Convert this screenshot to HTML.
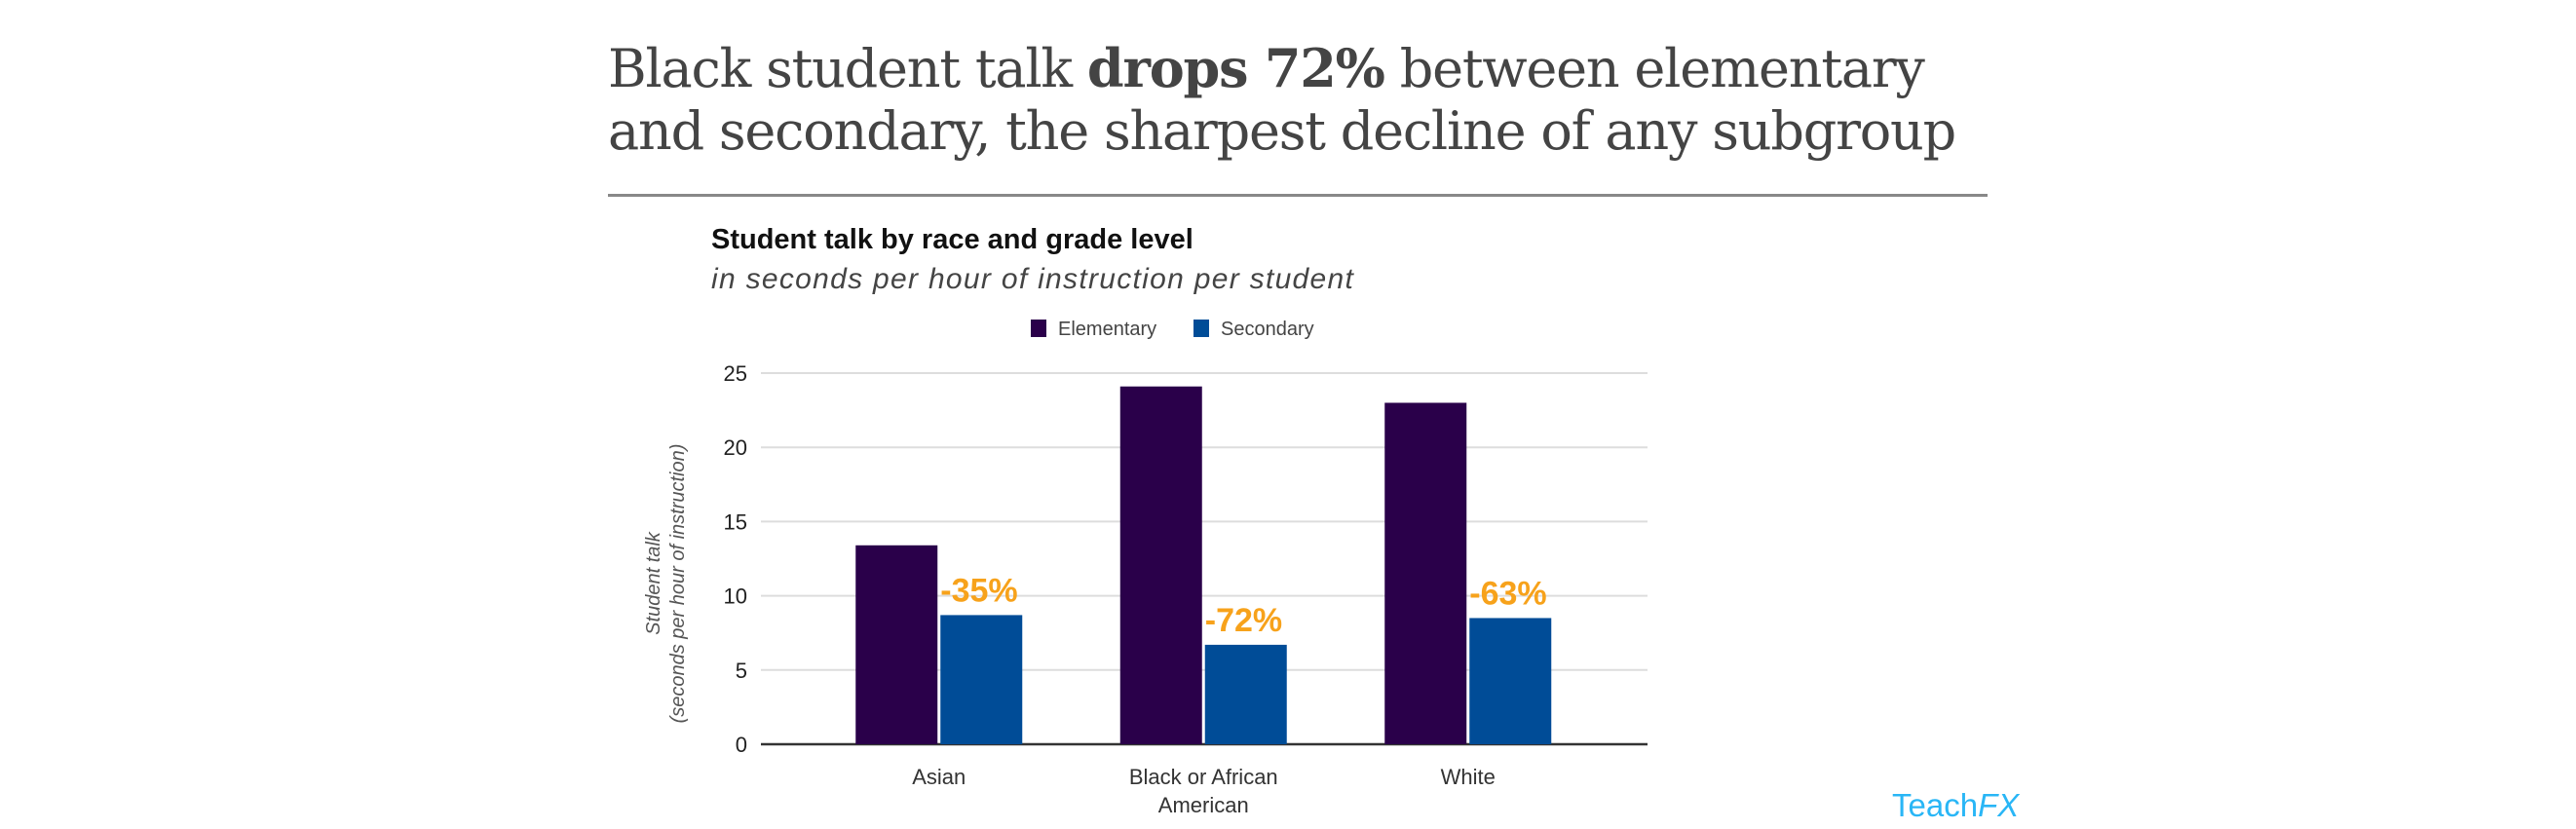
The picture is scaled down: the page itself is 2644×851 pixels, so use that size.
<!DOCTYPE html>
<html><head><meta charset="utf-8"><style>
body{margin:0;width:2644px;height:851px;background:#fff;overflow:hidden;position:relative;font-family:"Liberation Sans",sans-serif}
.t{position:absolute;white-space:nowrap}
</style></head><body>
<div class="t" style="left:624px;top:38px;font-family:'DejaVu Serif',serif;font-size:54px;color:#444;line-height:64px;letter-spacing:-1.2px">Black student talk <b>drops 72%</b> between elementary<br>and secondary, the sharpest decline of any subgroup</div>
<div style="position:absolute;left:624px;top:199px;width:1416px;height:3px;background:#888"></div>
<div class="t" style="left:730px;top:230px;font-size:29px;font-weight:bold;color:#111">Student talk by race and grade level</div>
<div class="t" style="left:730px;top:270px;font-size:30px;font-style:italic;color:#444;letter-spacing:1.3px">in seconds per hour of instruction per student</div>
<svg width="2644" height="851" style="position:absolute;left:0;top:0" id="c"></svg>
<div class="t" style="left:1942px;top:808px;font-size:33px;color:#29b6f6">Teach<i>FX</i></div>
<script>
const categories=["Asian","Black or African|American","White"];
const elementary=[13.4,24.1,23.0];
const secondary=[8.7,6.7,8.5];
const changeLabels=["-35%","-72%","-63%"];
const yTicks=[0,5,10,15,20,25];
const NS="http://www.w3.org/2000/svg",svg=document.getElementById('c');
const X0=781,X1=1691,Y0=764,Y1=383,BS=828,BW=271.5,bw=84;
const y=v=>Y0-(v/25)*(Y0-Y1);
const cx=i=>BS+BW*(i+0.5);
function mk(t,a,txt){const e=document.createElementNS(NS,t);for(const k in a)e.setAttribute(k,a[k]);if(txt!=null)e.textContent=txt;svg.appendChild(e);return e;}
yTicks.forEach(v=>{
 const l=mk('line',{x1:X0,x2:X1,y1:y(v),y2:y(v),stroke:v?'#ddd':'#333','stroke-width':v?2:2.5});
 
 
 const t=mk('text',{x:767,y:y(v)+8,'text-anchor':'end','font-size':22,fill:'#222'},v);
 
 
});
categories.forEach((c,i)=>{
 const e=mk('rect',{x:cx(i)-bw-1.5,y:y(elementary[i]),width:bw,height:Y0-y(elementary[i]),fill:'#2a004a'});
 
 
 const s=mk('rect',{x:cx(i)+1.5,y:y(secondary[i]),width:bw,height:Y0-y(secondary[i]),fill:'#004c97'});
 
 
 const p=mk('text',{x:cx(i)+1.5,y:y(secondary[i])-14,'font-size':34,'font-weight':'bold',fill:'#f7a21b'},changeLabels[i]);
 
 
 c.split('|').forEach((ln,j)=>{
  const t=mk('text',{x:cx(i),y:805+j*29,'text-anchor':'middle','font-size':22,fill:'#333'},ln);
  
  
 });
});
const g=mk('g',{transform:'translate(683,599) rotate(-90)'});


['Student talk','(seconds per hour of instruction)'].forEach((ln,j)=>{
 const t=document.createElementNS(NS,'text');
 t.setAttribute('x',0);t.setAttribute('y',-6+j*25);t.setAttribute('text-anchor','middle');
 t.setAttribute('font-size',20);t.setAttribute('font-style','italic');t.setAttribute('fill','#555');
 t.textContent=ln;g.appendChild(t);
});
[[1058,'#2a004a','Elementary'],[1225,'#004c97','Secondary']].forEach(([x,col,lab])=>{
 const r=mk('rect',{x:x,y:328,width:16,height:18,fill:col});
 
 
 const t=mk('text',{x:x+28,y:344,'font-size':20,fill:'#444'},lab);
 
 
});
</script>
</body></html>
